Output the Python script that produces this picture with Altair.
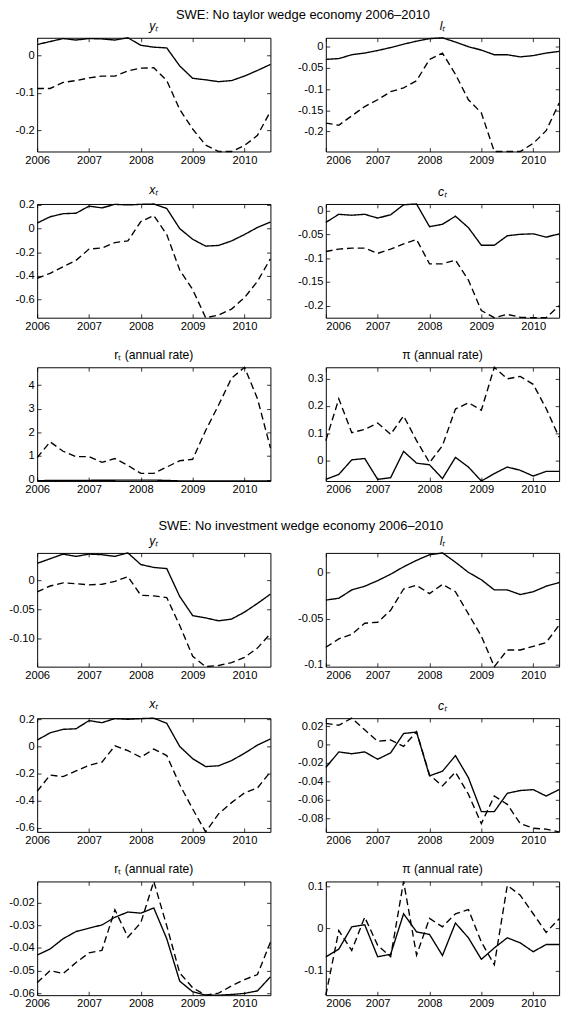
import altair as alt
import pandas as pd

FONT = "Liberation Sans"
W, H = 240, 117

quarters = [2006 + k / 4 for k in range(19)]
years = [2006, 2007, 2008, 2009, 2010]

# solid lines (data), the same in both economies
y_base = [0.029, 0.037, 0.045, 0.041, 0.045, 0.044, 0.041, 0.047, 0.027, 0.022,
          0.020, -0.028, -0.061, -0.065, -0.070, -0.067, -0.055, -0.040, -0.024]
l_base = [-0.030, -0.028, -0.019, -0.015, -0.009, -0.002, 0.006, 0.013, 0.019, 0.021,
          0.011, 0.000, -0.008, -0.019, -0.019, -0.024, -0.021, -0.015, -0.011]
x_base = [0.047, 0.100, 0.126, 0.130, 0.190, 0.175, 0.205, 0.200, 0.205, 0.208,
          0.170, 0.000, -0.090, -0.148, -0.142, -0.104, -0.050, 0.010, 0.055]
c_base = [-0.025, -0.008, -0.010, -0.008, -0.016, -0.009, 0.012, 0.0136, -0.034, -0.029,
          -0.012, -0.036, -0.073, -0.073, -0.053, -0.050, -0.049, -0.056, -0.049]
r_base = [-0.0432, -0.0405, -0.0360, -0.0328, -0.0313, -0.0299, -0.0265, -0.0242, -0.0247, -0.0224,
          -0.0360, -0.0547, -0.0594, -0.0609, -0.0609, -0.0606, -0.0601, -0.0590, -0.0528]
pi_base = [-0.067, -0.049, 0.004, 0.009, -0.067, -0.061, 0.035, -0.008, -0.014, -0.064,
           0.013, -0.022, -0.073, -0.046, -0.022, -0.034, -0.055, -0.038, -0.038]

# dashed lines: no taylor wedge economy
y_taylor = [-0.088, -0.088, -0.072, -0.067, -0.060, -0.055, -0.055, -0.041, -0.034, -0.033,
            -0.067, -0.144, -0.196, -0.239, -0.256, -0.256, -0.240, -0.213, -0.149]
l_taylor = [-0.180, -0.185, -0.163, -0.141, -0.125, -0.106, -0.097, -0.080, -0.030, -0.015,
            -0.065, -0.125, -0.156, -0.247, -0.247, -0.247, -0.228, -0.198, -0.133]
x_taylor = [-0.420, -0.378, -0.323, -0.268, -0.173, -0.164, -0.118, -0.104, 0.060, 0.110,
            -0.050, -0.350, -0.515, -0.753, -0.730, -0.680, -0.583, -0.446, -0.255]
c_taylor = [-0.086, -0.081, -0.079, -0.079, -0.090, -0.081, -0.070, -0.061, -0.112, -0.112,
            -0.104, -0.146, -0.210, -0.225, -0.218, -0.224, -0.225, -0.225, -0.200]
r_taylor = [0.93, 1.60, 1.20, 0.97, 0.97, 0.73, 0.89, 0.60, 0.26, 0.26,
            0.53, 0.80, 0.86, 2.08, 3.16, 4.30, 4.76, 3.43, 1.34]
pi_taylor = [0.074, 0.226, 0.103, 0.115, 0.138, 0.097, 0.164, 0.074, -0.006, 0.056,
             0.189, 0.212, 0.185, 0.341, 0.299, 0.308, 0.279, 0.191, 0.086]

# dashed lines: no investment wedge economy
y_inv = [-0.020, -0.010, -0.0045, -0.006, -0.008, -0.007, -0.002, 0.006, -0.026, -0.027,
         -0.030, -0.078, -0.131, -0.149, -0.147, -0.142, -0.133, -0.117, -0.092]
l_inv = [-0.081, -0.072, -0.067, -0.055, -0.054, -0.041, -0.018, -0.014, -0.023, -0.013,
         -0.021, -0.045, -0.069, -0.102, -0.084, -0.084, -0.080, -0.076, -0.057]
x_inv = [-0.330, -0.210, -0.222, -0.180, -0.138, -0.115, 0.005, -0.031, -0.079, -0.019,
         -0.067, -0.280, -0.460, -0.628, -0.496, -0.413, -0.341, -0.305, -0.186]
c_inv = [0.023, 0.021, 0.0287, 0.016, 0.0035, 0.005, -0.002, 0.014, -0.033, -0.045,
         -0.030, -0.054, -0.086, -0.056, -0.065, -0.086, -0.091, -0.092, -0.095]
r_inv = [-0.0554, -0.0500, -0.0514, -0.0465, -0.0422, -0.0411, -0.0232, -0.0353, -0.0289, -0.0107,
         -0.0303, -0.0511, -0.0576, -0.0609, -0.0600, -0.0568, -0.0540, -0.0518, -0.0375]
pi_inv = [-0.158, -0.005, -0.052, 0.027, -0.040, -0.067, 0.1115, -0.063, 0.024, 0.004,
          0.035, 0.045, -0.032, -0.086, 0.102, 0.079, 0.035, -0.009, 0.023]

# y tick values and their labels
ticks_y1, labels_y1 = [0, -0.1, -0.2], ["0", "-0.1", "-0.2"]
ticks_l1, labels_l1 = [0, -0.05, -0.1, -0.15, -0.2], ["0", "-0.05", "-0.1", "-0.15", "-0.2"]
ticks_x, labels_x = [0.2, 0, -0.2, -0.4, -0.6], ["0.2", "0", "-0.2", "-0.4", "-0.6"]
ticks_c1, labels_c1 = [0, -0.05, -0.1, -0.15, -0.2], ["0", "-0.05", "-0.1", "-0.15", "-0.2"]
ticks_r1, labels_r1 = [0, 1, 2, 3, 4], ["0", "1", "2", "3", "4"]
ticks_pi1, labels_pi1 = [0, 0.1, 0.2, 0.3], ["0", "0.1", "0.2", "0.3"]
ticks_y2, labels_y2 = [0, -0.05, -0.1], ["0", "-0.05", "-0.10"]
ticks_l2, labels_l2 = [0, -0.05, -0.1], ["0", "-0.05", "-0.1"]
ticks_c2, labels_c2 = [0.02, 0, -0.02, -0.04, -0.06, -0.08], ["0.02", "0", "-0.02", "-0.04", "-0.06", "-0.08"]
ticks_r2, labels_r2 = [-0.02, -0.03, -0.04, -0.05, -0.06], ["-0.02", "-0.03", "-0.04", "-0.05", "-0.06"]
ticks_pi2, labels_pi2 = [0.1, 0, -0.1], ["0.1", "0", "-0.1"]


def tick_expr(values, labels):
    expr = "''"
    for v, s in reversed(list(zip(values, labels))):
        expr = f"datum.value == {v} ? '{s}' : {expr}"
    return expr


def panel(title, solid, dashed, ticks, tick_labels, right_col=False, italic=True):
    df = pd.DataFrame({
        "quarter": quarters + quarters,
        "value": solid + dashed,
        "series": ["data"] * len(quarters) + ["model"] * len(quarters),
    })
    xscale = alt.Scale(domain=[2006, 2010.5], nice=False, zero=False)
    yscale = alt.Scale(zero=False, nice=False)
    lines = alt.Chart(df).mark_line(color="black", strokeWidth=1.4).encode(
        x=alt.X("quarter:Q", title=None, scale=xscale,
                axis=alt.Axis(values=years, format="d", labelFlush=right_col,
                              offset=-4, tickSize=4, labelPadding=3)),
        y=alt.Y("value:Q", title=None, scale=yscale,
                axis=alt.Axis(values=ticks, labelExpr=tick_expr(ticks, tick_labels),
                              offset=-4, tickSize=4, labelPadding=3)),
        strokeDash=alt.StrokeDash("series:N", legend=None,
                                  scale=alt.Scale(domain=["data", "model"], range=[[1, 0], [7, 4]])),
    )
    # inward ticks on the top and right edges of the box
    box_ticks = alt.Chart(df).mark_line(opacity=0).encode(
        x=alt.X("quarter:Q", title=None, scale=xscale,
                axis=alt.Axis(orient="top", values=years, labels=False, offset=-4, tickSize=4)),
        y=alt.Y("value:Q", title=None, scale=yscale,
                axis=alt.Axis(orient="right", values=ticks, labels=False, offset=-4, tickSize=4)),
        detail="series:N",
    )
    return (
        alt.layer(lines, box_ticks,
                  title=alt.Title(title, fontSize=12.5, fontWeight="normal",
                                  fontStyle="italic" if italic else "normal", offset=3))
        .resolve_axis(x="independent", y="independent")
        .properties(width=W, height=H)
    )


def group(title, panels, dx, offset):
    return alt.concat(
        *panels, columns=2, spacing={"row": 17, "column": 23},
        title=alt.Title(title, fontSize=13.3, fontWeight="normal", anchor="middle", offset=offset, dx=dx),
    )


taylor = group("SWE: No taylor wedge economy 2006\u20132010", [
    panel("y\u209c", y_base, y_taylor, ticks_y1, labels_y1),
    panel("l\u209c", l_base, l_taylor, ticks_l1, labels_l1, right_col=True),
    panel("x\u209c", x_base, x_taylor, ticks_x, labels_x),
    panel("c\u209c", c_base, c_taylor, ticks_c1, labels_c1, right_col=True),
    panel("r\u209c (annual rate)", r_base, r_taylor, ticks_r1, labels_r1, italic=False),
    panel("\u03c0 (annual rate)", pi_base, pi_taylor, ticks_pi1, labels_pi1, right_col=True, italic=False),
], dx=15, offset=-2)

investment = group("SWE: No investment wedge economy 2006\u20132010", [
    panel("y\u209c", y_base, y_inv, ticks_y2, labels_y2),
    panel("l\u209c", l_base, l_inv, ticks_l2, labels_l2, right_col=True),
    panel("x\u209c", x_base, x_inv, ticks_x, labels_x),
    panel("c\u209c", c_base, c_inv, ticks_c2, labels_c2, right_col=True),
    panel("r\u209c (annual rate)", r_base, r_inv, ticks_r2, labels_r2, italic=False),
    panel("\u03c0 (annual rate)", pi_base, pi_inv, ticks_pi2, labels_pi2, right_col=True, italic=False),
], dx=16, offset=2)

chart = (
    alt.vconcat(taylor, investment, spacing=24)
    .properties(padding={"left": 0, "top": -15, "right": 0, "bottom": 0})
    .configure_view(stroke="black", strokeWidth=1)
    .configure_axis(grid=False, domain=False, labelFont=FONT, labelFontSize=11.5,
                    labelColor="black", tickColor="black", tickWidth=0.8)
    .configure_title(font=FONT, color="black")
)

chart.save("out.html", embed_options={"renderer": "svg", "actions": False})
